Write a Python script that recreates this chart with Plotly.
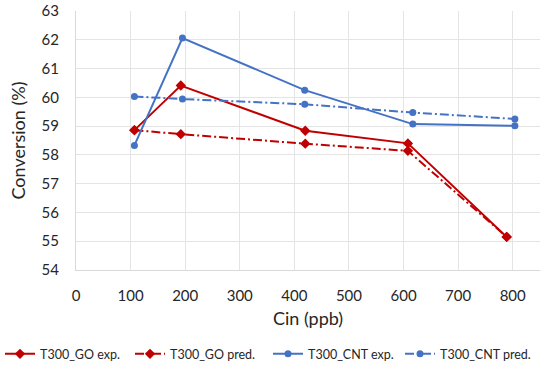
import plotly.graph_objects as go

go_x = [107, 192, 420, 608, 789]
go_exp = [58.86, 60.41, 58.84, 58.40, 55.15]
go_pred = [58.86, 58.72, 58.39, 58.14, 55.15]

cnt_x = [107, 195, 419, 617, 804]
cnt_exp = [58.33, 62.06, 60.25, 59.07, 59.01]
cnt_pred = [60.03, 59.94, 59.76, 59.47, 59.25]

red = "#C00000"
blue = "#4472C4"
dashdot = "9px,3px,2px,3px"

fig = go.Figure()
fig.add_trace(go.Scatter(x=go_x, y=go_exp, name="T300_GO exp.", mode="lines+markers", legend="legend",
                         line=dict(color=red, width=2), marker=dict(symbol="diamond", size=8, color=red)))
fig.add_trace(go.Scatter(x=go_x, y=go_pred, name="T300_GO pred.", mode="lines+markers", legend="legend2",
                         line=dict(color=red, width=2, dash=dashdot), marker=dict(symbol="diamond", size=8, color=red)))
fig.add_trace(go.Scatter(x=cnt_x, y=cnt_exp, name="T300_CNT exp.", mode="lines+markers", legend="legend3",
                         line=dict(color=blue, width=2), marker=dict(symbol="circle", size=7, color=blue)))
fig.add_trace(go.Scatter(x=cnt_x, y=cnt_pred, name="T300_CNT pred.", mode="lines+markers", legend="legend4",
                         line=dict(color=blue, width=2, dash=dashdot), marker=dict(symbol="circle", size=7, color=blue)))

font_family = "Lato, 'Open Sans', sans-serif"


def leg(xpx):
    return dict(orientation="h", x=xpx / 550, xanchor="left", xref="container",
                y=0.04, yanchor="middle", yref="container",
                font=dict(size=12.5, color="#262626"), itemwidth=30,
                bgcolor="rgba(0,0,0,0)")


fig.update_layout(
    width=550, height=369,
    margin=dict(l=76, r=10, t=11, b=99, autoexpand=False),
    paper_bgcolor="white", plot_bgcolor="white",
    font=dict(family=font_family, size=15, color="#262626"),
    showlegend=True,
    legend=leg(0), legend2=leg(130), legend3=leg(268), legend4=leg(400),
    xaxis=dict(range=[0, 850], tickvals=[0, 100, 200, 300, 400, 500, 600, 700, 800],
               showgrid=True, gridcolor="#E4E4E4", gridwidth=1,
               showline=True, linecolor="#D9D9D9", linewidth=1, zeroline=False,
               ticks="", tickfont=dict(size=15), ticklabelstandoff=12,
               title=dict(text="Cin (ppb)", font=dict(size=18), standoff=9)),
    yaxis=dict(range=[54, 63], dtick=1,
               showgrid=True, gridcolor="#E4E4E4", gridwidth=1,
               showline=True, linecolor="#D9D9D9", linewidth=1, zeroline=False,
               ticks="", tickfont=dict(size=15), ticklabelstandoff=13,
               title=dict(text="Conversion (%)", font=dict(size=18), standoff=11)),
)

fig.write_html("out.html", config={"displayModeBar": False},
               post_script="document.body.style.margin='0';")
